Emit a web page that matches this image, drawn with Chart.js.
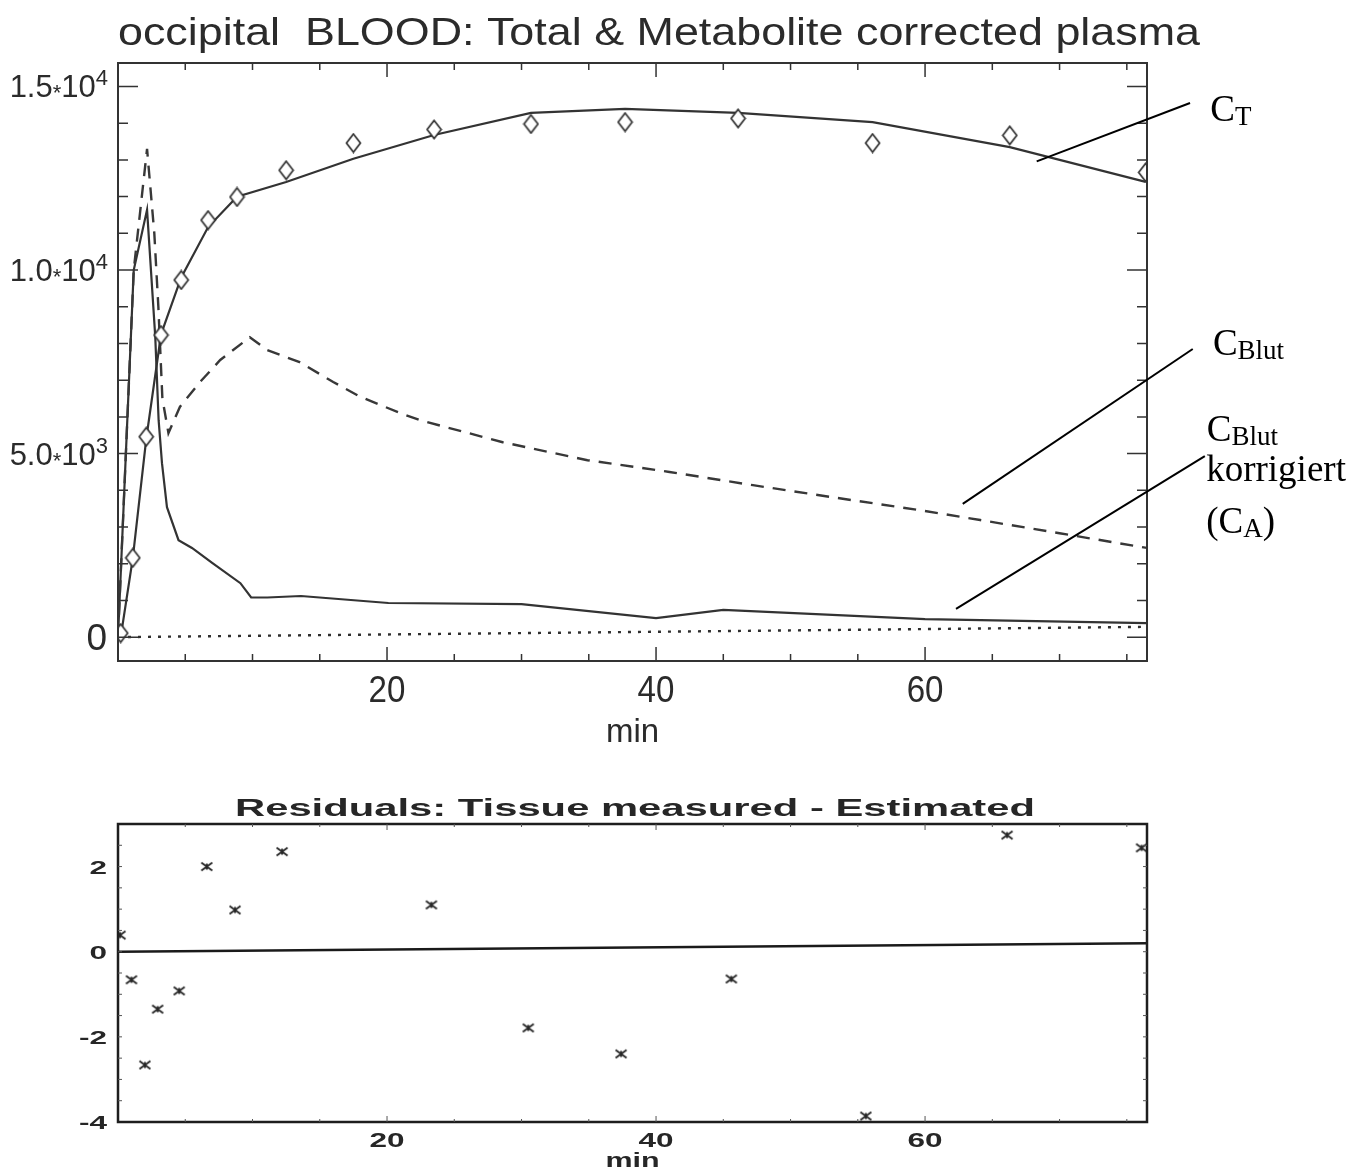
<!DOCTYPE html>
<html>
<head>
<meta charset="utf-8">
<script src="https://cdn.jsdelivr.net/npm/chart.js@4.4.0/dist/chart.umd.min.js"></script>
<style>
    body { margin: 0; background: #ffffff; }
    #top_chart { position: absolute; left: 0; top: 0; }
    #resid_chart { position: absolute; left: 0; top: 760px; }
</style>
</head>
<body>
<canvas id="top_chart" width="1364" height="760"></canvas>
<canvas id="resid_chart" width="1364" height="411"></canvas>
<script>
// tissue curve C_T, measured (min / counts)
var ct_times = [0.2, 1.1, 2.1, 3.2, 4.7, 6.7, 8.85, 12.5, 17.5, 23.5, 30.7, 37.7, 46.1, 56.1, 66.3, 76.4];
var ct_measured = [110, 2160, 5460, 8230, 9730, 11360, 11990, 12720, 13460, 13830, 13980, 14030, 14130, 13460, 13670, 12660];
// model fit of C_T at the same frame times
var ct_fitted = [0, 2150, 5400, 8250, 9800, 11170, 12000, 12400, 13030, 13680, 14280, 14390, 14280, 14030, 13350, 12400];

// total blood curve C_Blut (dashed)
var blood_times = [0, 1.17, 2.16, 2.7, 3.0, 3.3, 3.75, 4.6, 6.1, 7.6, 9.8, 11.1, 13.5, 16, 18, 21, 22.45, 28.6, 34.9, 41, 47.2, 53.5, 59.6, 64.1, 70, 76.5];
var blood_values = [0, 10000, 13300, 11000, 9000, 6500, 5560, 6270, 6950, 7550, 8170, 7820, 7490, 6950, 6550, 6100, 5910, 5310, 4820, 4500, 4140, 3790, 3460, 3190, 2830, 2430];

// metabolite corrected plasma C_A (solid)
var corr_times = [0, 1.17, 2.16, 2.77, 3.02, 3.27, 3.64, 4.5, 5.5, 7.0, 9.1, 9.9, 11.1, 13.6, 20.1, 30, 40, 45, 60, 76.5];
var corr_values = [0, 10000, 11640, 8180, 5910, 4740, 3540, 2640, 2430, 2020, 1470, 1080, 1080, 1120, 930, 900, 520, 740, 490, 380];

// dotted base line
var base_times = [0, 76.5];
var base_values = [0, 280];

// residuals: tissue measured - estimated
var resid_times = [0.15, 1.0, 2.0, 2.95, 4.55, 6.6, 8.7, 12.2, 23.3, 30.5, 37.4, 45.6, 55.6, 66.1, 76.1];
var resid_values = [0.39, -0.66, -2.66, -1.35, -0.92, 2.0, 0.98, 2.35, 1.1, -1.79, -2.4, -0.64, -3.86, 2.74, 2.44];
var resid_zero_times = [0, 76.5];
var resid_zero_values = [0, 0.2];

// tick labels
var x_tick_values = [20, 40, 60];
var x_tick_labels = ['20', '40', '60'];
var y_tick_values = [0, 5000, 10000, 15000];
var y_tick_labels = ['0', '5.0*10^3', '1.0*10^4', '1.5*10^4'];
var resid_y_tick_values = [2, 0, -2, -4];
var resid_y_tick_labels = ['2', '0', '-2', '-4'];

function xy(xs, ys) {
    var out = [];
    for (let i = 0; i < xs.length; i++) {
        out.push({x: xs[i], y: ys[i]});
    }
    return out;
}

// hollow diamond marker, a bit taller than wide like the scan
function make_diamond() {
    var c = document.createElement('canvas');
    c.width = 17; c.height = 21;
    var g = c.getContext('2d');
    g.fillStyle = '#ffffff';
    g.strokeStyle = '#333333';
    g.lineWidth = 1.7;
    g.beginPath();
    g.moveTo(8.5, 1.5); g.lineTo(15.5, 10.5); g.lineTo(8.5, 19.5); g.lineTo(1.5, 10.5);
    g.closePath();
    g.fill(); g.stroke();
    return c;
}

function make_resid_marker() {
    var c = document.createElement('canvas');
    c.width = 14; c.height = 11;
    var g = c.getContext('2d');
    g.strokeStyle = '#262626';
    g.lineWidth = 1.8;
    g.beginPath();
    g.moveTo(1.5, 1.5); g.lineTo(12.5, 9.5);
    g.moveTo(12.5, 1.5); g.lineTo(1.5, 9.5);
    g.moveTo(7, 2.5); g.lineTo(7, 8.5);
    g.stroke();
    return c;
}

// draw text, optionally stretched sideways (scan was not scaled evenly)
function stretch_text(ctx, text, x, y, font, sx, align) {
    ctx.save();
    ctx.font = font;
    ctx.textAlign = align || 'left';
    ctx.textBaseline = 'alphabetic';
    ctx.translate(x, y);
    ctx.scale(sx || 1, 1);
    ctx.fillText(text, 0, 0);
    ctx.restore();
}

function fit_text(ctx, text, x, y, font, width) {
    ctx.save();
    ctx.font = font;
    let sx = width / ctx.measureText(text).width;
    ctx.restore();
    stretch_text(ctx, text, x, y, font, sx, 'left');
}

// pieces drawn left to right so the whole label ends at x_right
function draw_runs(ctx, runs, x_right, baseline) {
    let total = 0;
    ctx.save();
    for (let i = 0; i < runs.length; i++) {
        ctx.font = runs[i].font;
        runs[i].w = ctx.measureText(runs[i].text).width;
        total += runs[i].w;
    }
    let x = x_right - total;
    ctx.textAlign = 'left';
    ctx.textBaseline = 'alphabetic';
    for (let i = 0; i < runs.length; i++) {
        ctx.font = runs[i].font;
        ctx.fillText(runs[i].text, x, baseline + runs[i].dy);
        x += runs[i].w;
    }
    ctx.restore();
}

var sans = '"Liberation Sans", Arial, sans-serif';
var serif = '"Liberation Serif", "Times New Roman", serif';

var top_decor = {
    id: 'top_decor',
    afterDraw: function (chart) {
        var ctx = chart.ctx, a = chart.chartArea;
        var xs = chart.scales.x, ys = chart.scales.y;
        ctx.save();
        ctx.strokeStyle = '#333333';
        ctx.fillStyle = '#2b2b2b';
        ctx.lineWidth = 2;
        ctx.strokeRect(a.left, a.top, a.right - a.left, a.bottom - a.top);

        // inward ticks on all four sides
        ctx.lineWidth = 1.5;
        ctx.beginPath();
        for (let v = 5; v < xs.max; v += 5) {
            let px = xs.getPixelForValue(v);
            let len = v % 20 === 0 ? 14 : 7;
            ctx.moveTo(px, a.bottom); ctx.lineTo(px, a.bottom - len);
            ctx.moveTo(px, a.top); ctx.lineTo(px, a.top + len);
        }
        for (let v = 0; v < ys.max; v += 1000) {
            let py = ys.getPixelForValue(v);
            let len = v % 5000 === 0 ? 20 : 10;
            ctx.moveTo(a.left, py); ctx.lineTo(a.left + len, py);
            ctx.moveTo(a.right, py); ctx.lineTo(a.right - len, py);
        }
        ctx.stroke();

        // x tick labels + axis title
        for (let i = 0; i < x_tick_values.length; i++) {
            stretch_text(ctx, x_tick_labels[i], xs.getPixelForValue(x_tick_values[i]), a.bottom + 41,
                '36px ' + sans, 0.92, 'center');
        }
        stretch_text(ctx, 'min', (a.left + a.right) / 2, a.bottom + 81, '33px ' + sans, 1.0, 'center');

        // y tick labels like 1.5*10^4
        for (let i = 0; i < y_tick_values.length; i++) {
            let py = ys.getPixelForValue(y_tick_values[i]);
            let lab = y_tick_labels[i];
            if (lab.indexOf('^') < 0) {
                draw_runs(ctx, [{text: lab, font: '37px ' + sans, dy: 0}], a.left - 11, py + 13);
                continue;
            }
            let mant = lab.split('^')[0].split('*');
            let expo = lab.split('^')[1];
            draw_runs(ctx, [
                {text: mant[0], font: '31px ' + sans, dy: 0},
                {text: '*', font: '22px ' + sans, dy: 3},
                {text: mant[1], font: '31px ' + sans, dy: 0},
                {text: expo, font: '22px ' + sans, dy: -12}
            ], a.left - 10, py + 11);
        }

        // chart title
        fit_text(ctx, 'occipital  BLOOD: Total & Metabolite corrected plasma', a.left, 45, '39px ' + sans, 1082);

        // leader lines and curve names, placed in data units
        var notes = chart.options.plugins.top_decor.notes;
        ctx.strokeStyle = '#000000';
        ctx.fillStyle = '#000000';
        ctx.lineWidth = 2;
        for (let i = 0; i < notes.length; i++) {
            let n = notes[i];
            ctx.beginPath();
            ctx.moveTo(xs.getPixelForValue(n.line[0]), ys.getPixelForValue(n.line[1]));
            ctx.lineTo(xs.getPixelForValue(n.line[2]), ys.getPixelForValue(n.line[3]));
            ctx.stroke();
            for (let j = 0; j < n.text.length; j++) {
                let t = n.text[j];
                let tx = xs.getPixelForValue(t.x), ty = ys.getPixelForValue(t.y);
                ctx.font = '37px ' + serif;
                ctx.textAlign = 'left';
                ctx.fillText(t.main, tx, ty);
                if (t.sub) {
                    let w = ctx.measureText(t.main).width;
                    ctx.font = '27px ' + serif;
                    ctx.fillText(t.sub, tx + w, ty + 4);
                    if (t.after) {
                        let w2 = ctx.measureText(t.sub).width;
                        ctx.font = '37px ' + serif;
                        ctx.fillText(t.after, tx + w + w2, ty);
                    }
                }
            }
        }
        ctx.restore();
    }
};

var resid_decor = {
    id: 'resid_decor',
    afterDraw: function (chart) {
        var ctx = chart.ctx, a = chart.chartArea;
        var xs = chart.scales.x, ys = chart.scales.y;
        ctx.save();
        ctx.strokeStyle = '#1e1e1e';
        ctx.fillStyle = '#262626';
        ctx.lineWidth = 2.5;
        ctx.strokeRect(a.left, a.top, a.right - a.left, a.bottom - a.top);

        ctx.lineWidth = 1;
        ctx.strokeStyle = '#555555';
        ctx.beginPath();
        for (let v = 5; v < xs.max; v += 5) {
            let px = xs.getPixelForValue(v);
            let len = v % 20 === 0 ? 6 : 3;
            ctx.moveTo(px, a.bottom); ctx.lineTo(px, a.bottom - len);
            ctx.moveTo(px, a.top); ctx.lineTo(px, a.top + len);
        }
        for (let v = -3.5; v < ys.max; v += 0.5) {
            let py = ys.getPixelForValue(v);
            ctx.moveTo(a.left, py); ctx.lineTo(a.left + 4, py);
            ctx.moveTo(a.right, py); ctx.lineTo(a.right - 4, py);
        }
        ctx.stroke();

        for (let i = 0; i < x_tick_values.length; i++) {
            stretch_text(ctx, x_tick_labels[i], xs.getPixelForValue(x_tick_values[i]), a.bottom + 25,
                'bold 21px ' + sans, 1.5, 'center');
        }
        stretch_text(ctx, 'min', (a.left + a.right) / 2, a.bottom + 45, 'bold 21px ' + sans, 1.45, 'center');
        for (let i = 0; i < resid_y_tick_values.length; i++) {
            stretch_text(ctx, resid_y_tick_labels[i], a.left - 11, ys.getPixelForValue(resid_y_tick_values[i]) + 7,
                'bold 18px ' + sans, 1.75, 'right');
        }
        fit_text(ctx, 'Residuals: Tissue measured - Estimated', 235, 56, 'bold 23px ' + sans, 800);
        ctx.restore();
    }
};

var top_chart = new Chart(document.getElementById('top_chart').getContext('2d'), {
    type: 'line',
    data: {
        datasets: [{
            label: 'C_T measured',
            data: xy(ct_times, ct_measured),
            showLine: false,
            pointStyle: make_diamond(),
            pointRadius: 8,
            clip: 0
        }, {
            label: 'C_T fit',
            data: xy(ct_times, ct_fitted),
            borderColor: '#333333',
            borderWidth: 2.2,
            pointRadius: 0
        }, {
            label: 'C_Blut',
            data: xy(blood_times, blood_values),
            borderColor: '#383838',
            borderWidth: 2.4,
            borderDash: [13, 9],
            pointRadius: 0
        }, {
            label: 'C_A',
            data: xy(corr_times, corr_values),
            borderColor: '#333333',
            borderWidth: 2.2,
            pointRadius: 0
        }, {
            label: 'base',
            data: xy(base_times, base_values),
            borderColor: '#2e2e2e',
            borderWidth: 2.4,
            borderDash: [3, 7],
            pointRadius: 0
        }]
    },
    options: {
        responsive: false,
        animation: false,
        devicePixelRatio: 1,
        events: [],
        layout: { padding: { left: 118, right: 217, top: 63, bottom: 99 } },
        elements: { line: { tension: 0 } },
        scales: {
            x: { type: 'linear', min: 0, max: 76.5, display: false },
            y: { type: 'linear', min: -650, max: 15640, display: false }
        },
        plugins: {
            legend: { display: false },
            tooltip: { enabled: false },
            title: { display: false },
            top_decor: {
                notes: [
                    { line: [68.3, 12960, 79.7, 14550],
                      text: [{x: 81.2, y: 14060, main: 'C', sub: 'T'}] },
                    { line: [62.8, 3630, 79.9, 7850],
                      text: [{x: 81.4, y: 7690, main: 'C', sub: 'Blut'}] },
                    { line: [62.3, 770, 80.8, 4930],
                      text: [{x: 80.95, y: 5340, main: 'C', sub: 'Blut'},
                             {x: 80.9, y: 4250, main: 'korrigiert'},
                             {x: 80.9, y: 2850, main: '(C', sub: 'A', after: ')'}] }
                ]
            }
        }
    },
    plugins: [top_decor]
});

var resid_chart = new Chart(document.getElementById('resid_chart').getContext('2d'), {
    type: 'line',
    data: {
        datasets: [{
            label: 'residuals',
            data: xy(resid_times, resid_values),
            showLine: false,
            pointStyle: make_resid_marker(),
            pointRadius: 6,
            clip: 0
        }, {
            label: 'zero',
            data: xy(resid_zero_times, resid_zero_values),
            borderColor: '#1a1a1a',
            borderWidth: 2.5,
            pointRadius: 0
        }]
    },
    options: {
        responsive: false,
        animation: false,
        devicePixelRatio: 1,
        events: [],
        layout: { padding: { left: 118, right: 217, top: 64, bottom: 49 } },
        elements: { line: { tension: 0 } },
        scales: {
            x: { type: 'linear', min: 0, max: 76.5, display: false },
            y: { type: 'linear', min: -4, max: 3, display: false }
        },
        plugins: {
            legend: { display: false },
            tooltip: { enabled: false },
            title: { display: false }
        }
    },
    plugins: [resid_decor]
});
</script>
</body>
</html>
